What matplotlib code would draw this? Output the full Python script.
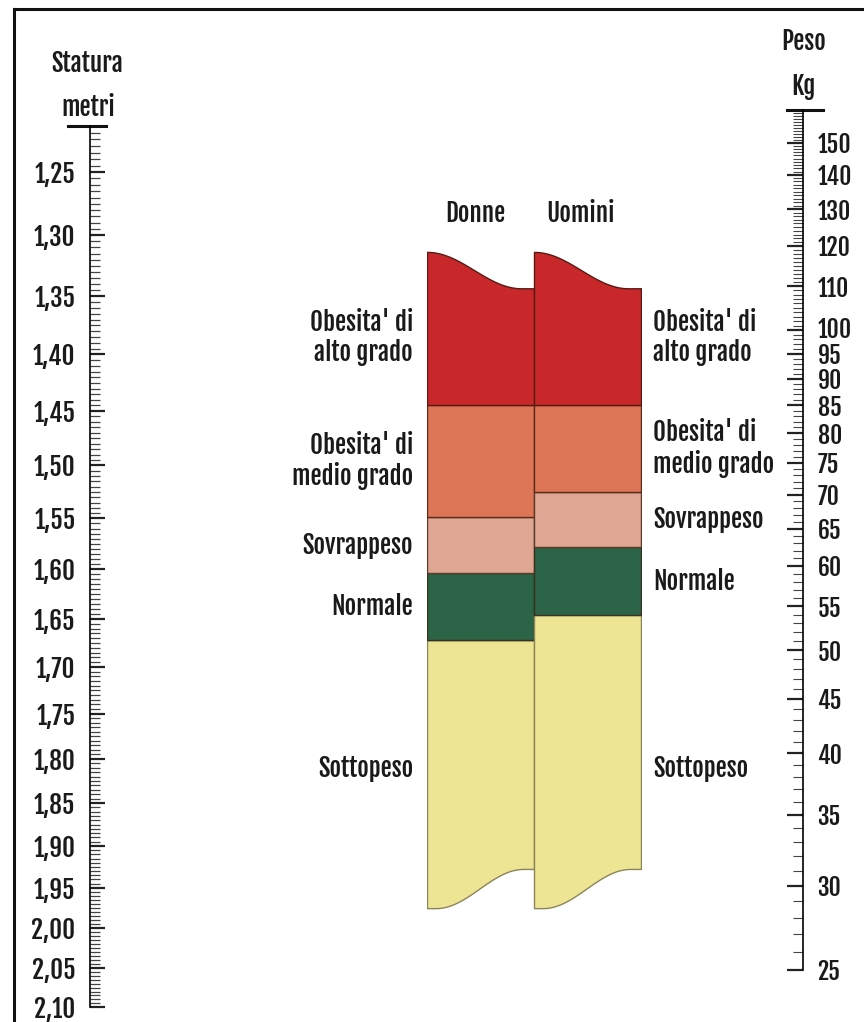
import numpy as np
import matplotlib
matplotlib.use("Agg")
import matplotlib.pyplot as plt
from matplotlib import transforms
from matplotlib.lines import Line2D
from matplotlib.ticker import FixedLocator, FixedFormatter, NullFormatter

plt.rcParams["font.family"] = ["Fjalla One", "Barlow Condensed", "Roboto Condensed",
                               "Oswald", "Liberation Sans Narrow", "DejaVu Sans"]
plt.rcParams["font.weight"] = "bold"
plt.rcParams["text.color"] = "#1a1a1a"

W_PX, H_PX = 864, 1022
FS = 18

# --- scala statura (metri) -------------------------------------------------
STATURA_MAJ = [1.25, 1.30, 1.35, 1.40, 1.45, 1.50, 1.55, 1.60, 1.65, 1.70,
               1.75, 1.80, 1.85, 1.90, 1.95, 2.00, 2.05, 2.10]
STATURA_LAB = ["1,25", "1,30", "1,35", "1,40", "1,45", "1,50", "1,55", "1,60",
               "1,65", "1,70", "1,75", "1,80", "1,85", "1,90", "1,95", "2,00",
               "2,05", "2,10"]
STATURA_MIN = np.round(np.arange(1.22, 2.1001, 0.005), 3)
STATURA_RANGE = (1.215, 2.10)

# --- scala peso (Kg) -------------------------------------------------------
PESO_MAJ = [25, 30, 35, 40, 45, 50, 55, 60, 65, 70, 75, 80, 85, 90, 95, 100,
            110, 120, 130, 140, 150]
PESO_LAB = [str(v) for v in PESO_MAJ]
PESO_MIN = np.arange(25, 161, 1)
PESO_RANGE = (25, 161)

# --- colonne IMC (Donne / Uomini) -------------------------------------------
CATEGORIE = ["Sottopeso", "Normale", "Sovrappeso",
             "Obesita' di\nmedio grado", "Obesita' di\nalto grado"]
COLORI = ["#eee594", "#2b6446", "#dfa793", "#dc7656", "#c8282a"]
BORDI = ["#8a8458", "#3a3020", "#5a3a2a", "#5a2a1a", "#5a1a14"]
LIMITI_DONNE = [18.4, 23.0, 27.6, 40.0]
LIMITI_UOMINI = [20.0, 25.0, 30.0, 40.0]
CIMA = [66.3, 58.8]      # bordo superiore ondulato (sinistra, destra)
FONDO = [7.6, 8.65]      # bordo inferiore ondulato (sinistra, destra)


def log_limits(v1, p1, v2, p2):
    """Limiti y di un asse log che mette v1 al pixel p1 e v2 al pixel p2."""
    k = (np.log(v2) - np.log(v1)) / (p2 - p1)
    top = np.exp(np.log(v1) + (0 - p1) * k)
    bottom = np.exp(np.log(v1) + (H_PX - p1) * k)
    return bottom, top


def fy(px):
    return 1 - px / H_PX


def fx(px):
    return px / W_PX


def smooth(u):
    u = np.clip(u, 0, 1)
    return (1 - np.cos(np.pi * u)) / 2


fig = plt.figure(figsize=(W_PX / 100, H_PX / 100), dpi=100)

# ---------------------------------------------------------------------------
# asse sinistro: statura
axL = fig.add_axes([fx(90), 0, fx(100), 1])
axL.set_yscale("log")
axL.set_ylim(*log_limits(1.25, 172, 2.10, 1007))
axL.patch.set_visible(False)
for s in ["top", "right", "bottom"]:
    axL.spines[s].set_visible(False)
axL.spines["left"].set_bounds(*STATURA_RANGE)
axL.spines["left"].set_linewidth(1.2)
axL.set_xticks([])
axL.yaxis.set_major_locator(FixedLocator(STATURA_MAJ))
axL.yaxis.set_major_formatter(FixedFormatter(STATURA_LAB))
axL.yaxis.set_minor_locator(FixedLocator(STATURA_MIN))
axL.yaxis.set_minor_formatter(NullFormatter())
axL.tick_params(axis="y", which="major", direction="in", length=11, width=1.6,
                pad=10.5, labelsize=FS, color="#222222", labelcolor="#1a1a1a")
axL.tick_params(axis="y", which="minor", direction="in", length=7.2, width=0.9,
                color="#444444")
axL.axhline(STATURA_RANGE[0], xmin=-0.22, xmax=0.16, color="#111111", lw=2.2,
            clip_on=False)

# ---------------------------------------------------------------------------
# asse destro: peso
axR = fig.add_axes([fx(703), 0, fx(100), 1])
axR.set_yscale("log")
axR.set_ylim(*log_limits(25, 970, 150, 143))
axR.patch.set_visible(False)
for s in ["top", "left", "bottom"]:
    axR.spines[s].set_visible(False)
axR.spines["right"].set_bounds(*PESO_RANGE)
axR.spines["right"].set_linewidth(1.2)
axR.set_xticks([])
axR.yaxis.tick_right()
axR.yaxis.set_major_locator(FixedLocator(PESO_MAJ))
axR.yaxis.set_major_formatter(FixedFormatter(PESO_LAB))
axR.yaxis.set_minor_locator(FixedLocator(PESO_MIN))
axR.yaxis.set_minor_formatter(NullFormatter())
axR.tick_params(axis="y", which="major", direction="in", length=11.5, width=1.6,
                pad=10.5, labelsize=17, color="#222222", labelcolor="#1a1a1a")
axR.tick_params(axis="y", which="minor", direction="in", length=7.5, width=0.8,
                color="#444444")
axR.axhline(PESO_RANGE[1], xmin=0.84, xmax=1.2, color="#111111", lw=2.2,
            clip_on=False)

# 100 e 95 sono molto vicini: "100" leggermente rialzato come nell'originale
fig.canvas.draw()
for tick in axR.yaxis.get_major_ticks():
    lab = tick.label2
    if lab.get_text() == "100":
        lab.set_transform(lab.get_transform()
                          + transforms.ScaledTranslation(0, 0.03, fig.dpi_scale_trans))

# ---------------------------------------------------------------------------
# colonne centrali
axM = fig.add_axes([fx(427), 0, fx(214), 1])
axM.set_yscale("log")
axM.set_ylim(*log_limits(20, 615, 40, 405))
axM.set_xlim(0, 2)
axM.axis("off")

t = np.linspace(0, 1, 300)
top_curve = np.exp(np.log(CIMA[0]) + (np.log(CIMA[1]) - np.log(CIMA[0])) * smooth(t / 0.88))
bot_curve = np.exp(np.log(FONDO[0]) + (np.log(FONDO[1]) - np.log(FONDO[0])) * smooth((t - 0.08) / 0.82))

for col, limiti in enumerate([LIMITI_DONNE, LIMITI_UOMINI]):
    x = col + t
    bounds = [bot_curve] + [np.full_like(t, v) for v in limiti] + [top_curve]
    for i in range(len(CATEGORIE)):
        axM.fill_between(x, bounds[i], bounds[i + 1], facecolor=COLORI[i],
                         edgecolor=BORDI[i], lw=1.0)

# etichette categorie
gm = lambda a, b: np.sqrt(a * b)
for side, limiti in enumerate([LIMITI_DONNE, LIMITI_UOMINI]):
    edges = [gm(*FONDO)] + limiti + [gm(*CIMA)]
    for i, lab in enumerate(CATEGORIE):
        if i == 0:
            # "Sottopeso" alla stessa altezza per entrambe le colonne
            lo = min(LIMITI_DONNE[0], LIMITI_UOMINI[0])
            y = gm(edges[0], lo) * 0.985
        else:
            y = gm(edges[i], edges[i + 1])
        if side == 0:
            axM.text(-0.13, y, lab, ha="right", va="center", fontsize=FS,
                     multialignment="right", linespacing=1.15, clip_on=False)
        else:
            axM.text(2.11, y, lab, ha="left", va="center", fontsize=FS,
                     multialignment="left", linespacing=1.15, clip_on=False)

head = transforms.blended_transform_factory(axM.transData, fig.transFigure)
axM.text(0.45, fy(213), "Donne", transform=head, ha="center", va="center",
         fontsize=FS)
axM.text(1.43, fy(213), "Uomini", transform=head, ha="center", va="center",
         fontsize=FS)

# titoli delle scale
fig.text(fx(87), fy(64), "Statura", ha="center", va="center", fontsize=FS)
fig.text(fx(88), fy(107), "metri", ha="center", va="center", fontsize=FS)
fig.text(fx(804), fy(42), "Peso", ha="center", va="center", fontsize=FS)
fig.text(fx(803), fy(87), "Kg", ha="center", va="center", fontsize=FS)

# cornice
fig.add_artist(Line2D([fx(14), 1], [fy(9), fy(9)], color="#111111", lw=2.2))
fig.add_artist(Line2D([fx(14), fx(14)], [0, fy(9)], color="#111111", lw=2.2))

fig.savefig("out.png", dpi=100)
